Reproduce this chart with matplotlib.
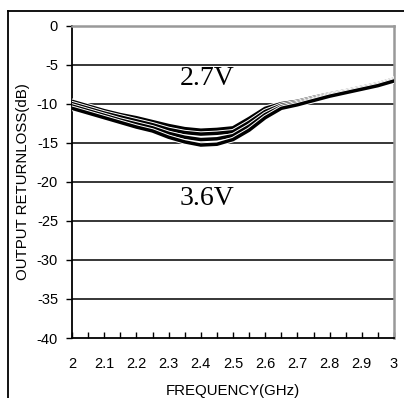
import matplotlib
matplotlib.use("Agg")
import matplotlib.pyplot as plt
import matplotlib.patheffects as pe
from matplotlib.lines import Line2D
from matplotlib.ticker import MultipleLocator

plt.rcParams["axes.unicode_minus"] = False

freq = [2.0, 2.05, 2.1, 2.15, 2.2, 2.25, 2.3, 2.35, 2.4, 2.45, 2.5,
        2.55, 2.6, 2.65, 2.7, 2.75, 2.8, 2.85, 2.9, 2.95, 3.0]
rl_1 = [-9.7, -10.3, -10.9, -11.4, -11.8, -12.3, -12.8, -13.2, -13.4, -13.3, -13.1,
        -11.9, -10.6, -10.0, -9.7, -9.2, -8.75, -8.35, -7.9, -7.45, -6.85]
rl_2 = [-10.0, -10.6, -11.2, -11.7, -12.2, -12.7, -13.3, -13.7, -13.9, -13.8, -13.6,
        -12.4, -11.0, -10.2, -9.85, -9.35, -8.85, -8.45, -8.0, -7.55, -6.95]
rl_3 = [-10.3, -10.9, -11.5, -12.1, -12.6, -13.1, -13.8, -14.3, -14.6, -14.5, -14.1,
        -12.9, -11.4, -10.4, -10.0, -9.5, -8.95, -8.5, -8.05, -7.6, -7.0]
rl_4 = [-10.6, -11.2, -11.8, -12.4, -13.0, -13.5, -14.3, -14.9, -15.3, -15.2, -14.6,
        -13.4, -11.8, -10.6, -10.15, -9.6, -9.05, -8.6, -8.15, -7.7, -7.1]
curves = [rl_1, rl_2, rl_3, rl_4]

grid_levels = [-5, -10, -15, -20, -25, -30, -35]
xticks = [2.0, 2.1, 2.2, 2.3, 2.4, 2.5, 2.6, 2.7, 2.8, 2.9, 3.0]
xlabels = ["2", "2.1", "2.2", "2.3", "2.4", "2.5", "2.6", "2.7", "2.8", "2.9", "3"]

fig = plt.figure(figsize=(4.04, 3.98), dpi=100)
ax = fig.add_axes([72/404, 1 - 338/398, 322/404, 312.5/398])

# outer frame (only top and left edges visible)
fig.add_artist(Line2D([8/404, 1], [1 - 11/398, 1 - 11/398], color="black", lw=1.3,
                      transform=fig.transFigure))
fig.add_artist(Line2D([8/404, 8/404], [0, 1 - 11/398], color="black", lw=1.3,
                      transform=fig.transFigure))

for g in grid_levels:
    ax.axhline(g, color="black", lw=1.1, zorder=1)

for c in curves:
    ax.plot(freq, c, color="black", lw=2.5, zorder=3,
            path_effects=[pe.Stroke(linewidth=3.9, foreground="white"), pe.Normal()])

ax.set_xlim(2, 3)
ax.set_ylim(-40, 0)
ax.set_xticks(xticks)
ax.set_xticklabels(xlabels)
ax.xaxis.set_minor_locator(MultipleLocator(0.05))
ax.yaxis.set_major_locator(MultipleLocator(5))

ax.tick_params(axis="x", which="both", direction="in", length=4, width=1, pad=14,
               labelsize=10.5, labelfontfamily="Liberation Sans")
ax.tick_params(axis="y", direction="out", length=4, width=1, pad=6,
               labelsize=10.5, labelfontfamily="Liberation Sans")

for s in ["top", "right"]:
    ax.spines[s].set_color("#999999")
    ax.spines[s].set_linewidth(1.8)
for s in ["left", "bottom"]:
    ax.spines[s].set_color("black")
    ax.spines[s].set_linewidth(1.3)

ax.set_xlabel("FREQUENCY(GHz)", fontsize=10.8, family="Liberation Sans", labelpad=9)
ax.set_ylabel("OUTPUT RETURNLOSS(dB)", fontsize=10.8, family="Liberation Sans", labelpad=5)

ax.text(2.42, -6.8, "2.7V", fontsize=20, family="Liberation Serif", ha="center", va="center")
ax.text(2.42, -22.2, "3.6V", fontsize=20, family="Liberation Serif", ha="center", va="center")

fig.savefig("out.png", dpi=100)
